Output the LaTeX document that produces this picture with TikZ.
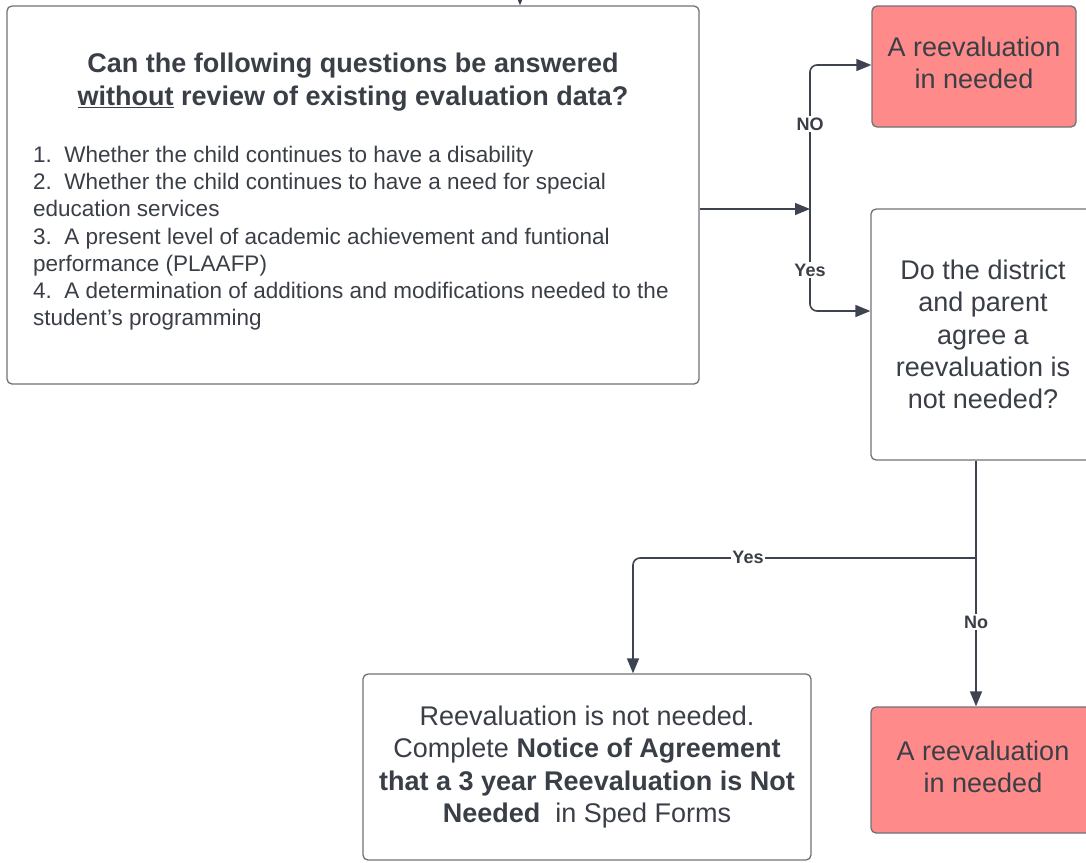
\documentclass[tikz,border=0pt]{standalone}
\usepackage{fontspec}
\setmainfont{Liberation Sans}
\usetikzlibrary{arrows.meta}
\definecolor{ink}{HTML}{3A3F47}
\definecolor{edgec}{HTML}{6E7278}
\definecolor{redfill}{HTML}{FF8A8A}
\definecolor{wirec}{HTML}{3D4450}
\tikzset{
  box/.style={draw=edgec, line width=1.3pt, rounded corners=5pt, fill=white, inner sep=0pt, text=ink},
  redbox/.style={box, fill=redfill},
  wire/.style={draw=wirec, line width=1.6pt, -{Triangle[length=15pt,width=12pt]}, rounded corners=7pt},
  lbl/.style={fill=white, font=\bfseries\fontsize{18}{19}\selectfont, text=ink, inner sep=1.5pt},
  big/.style={font=\fontsize{27}{32.3}\selectfont, align=center, text=ink},
}
\begin{document}
\begin{tikzpicture}[x=1pt,y=-1pt]
\useasboundingbox (0,0) rectangle (1086,862);
\clip (0,0) rectangle (1086,862);
% boxes
\node[box, minimum width=692pt, minimum height=378pt] (main) at (353,195) {};
\node[big, font=\bfseries\fontsize{27}{33}\selectfont] (title) at (353,82.5)
  {Can the following questions be answered\\\underline{without} review of existing evaluation data?};
\node[text=ink, font=\fontsize{22.5}{27.2}\selectfont, align=left, anchor=north west, inner sep=0pt] (list) at (33,146)
  {1.\ \ Whether the child continues to have a disability\\
   2.\ \ Whether the child continues to have a need for special\\
   education services\\
   3.\ \ A present level of academic achievement and funtional\\
   performance (PLAAFP)\\
   4.\ \ A determination of additions and modifications needed to the\\
   student\symbol{39}s programming};
\node[redbox, minimum width=204pt, minimum height=121pt] (red1) at (974,66.5) {};
\node[big] (red1t) at (974,62.5) {A reevaluation\\in needed};
\node[box, big, minimum width=224pt, minimum height=251pt] (q) at (983,334.5)
  {Do the district\\and parent\\agree a\\reevaluation is\\not needed?};
\node[redbox, minimum width=224pt, minimum height=126pt] (red2) at (983,770) {};
\node[big] (red2t) at (983,767) {A reevaluation\\in needed};
\node[box, big, minimum width=448pt, minimum height=186pt] (done) at (587,767)
  {Reevaluation is not needed.\\Complete \textbf{Notice of Agreement}\\\textbf{that a 3 year Reevaluation is Not}\\\textbf{Needed}\ \ in Sped Forms};
% connectors
\coordinate (topin) at (520,-12);
\coordinate (j1) at (810,209);
\coordinate (j2) at (976,558);
\draw[wire] (topin) -- (main.north -| topin);
\draw[draw=wirec, line width=1.3pt, -{Triangle[length=15pt,width=12pt]}] (main.east |- j1) -- (j1);
\draw[wire] (j1) |- ([yshift=1.5pt]red1.west);
\draw[wire] (j1) |- ([yshift=23.5pt]q.west);
\draw[wire] (q.south -| j2) -- (red2.north -| j2);
\draw[wire] (j2) -| ([xshift=46pt]done.north);
\node[lbl] (no1) at (810,124) {NO};
\node[lbl] (yes1) at (810,270) {Yes};
\node[lbl] (no2) at (976,622) {No};
\node[lbl] (yes2) at (748,557) {Yes};
\end{tikzpicture}
\end{document}
